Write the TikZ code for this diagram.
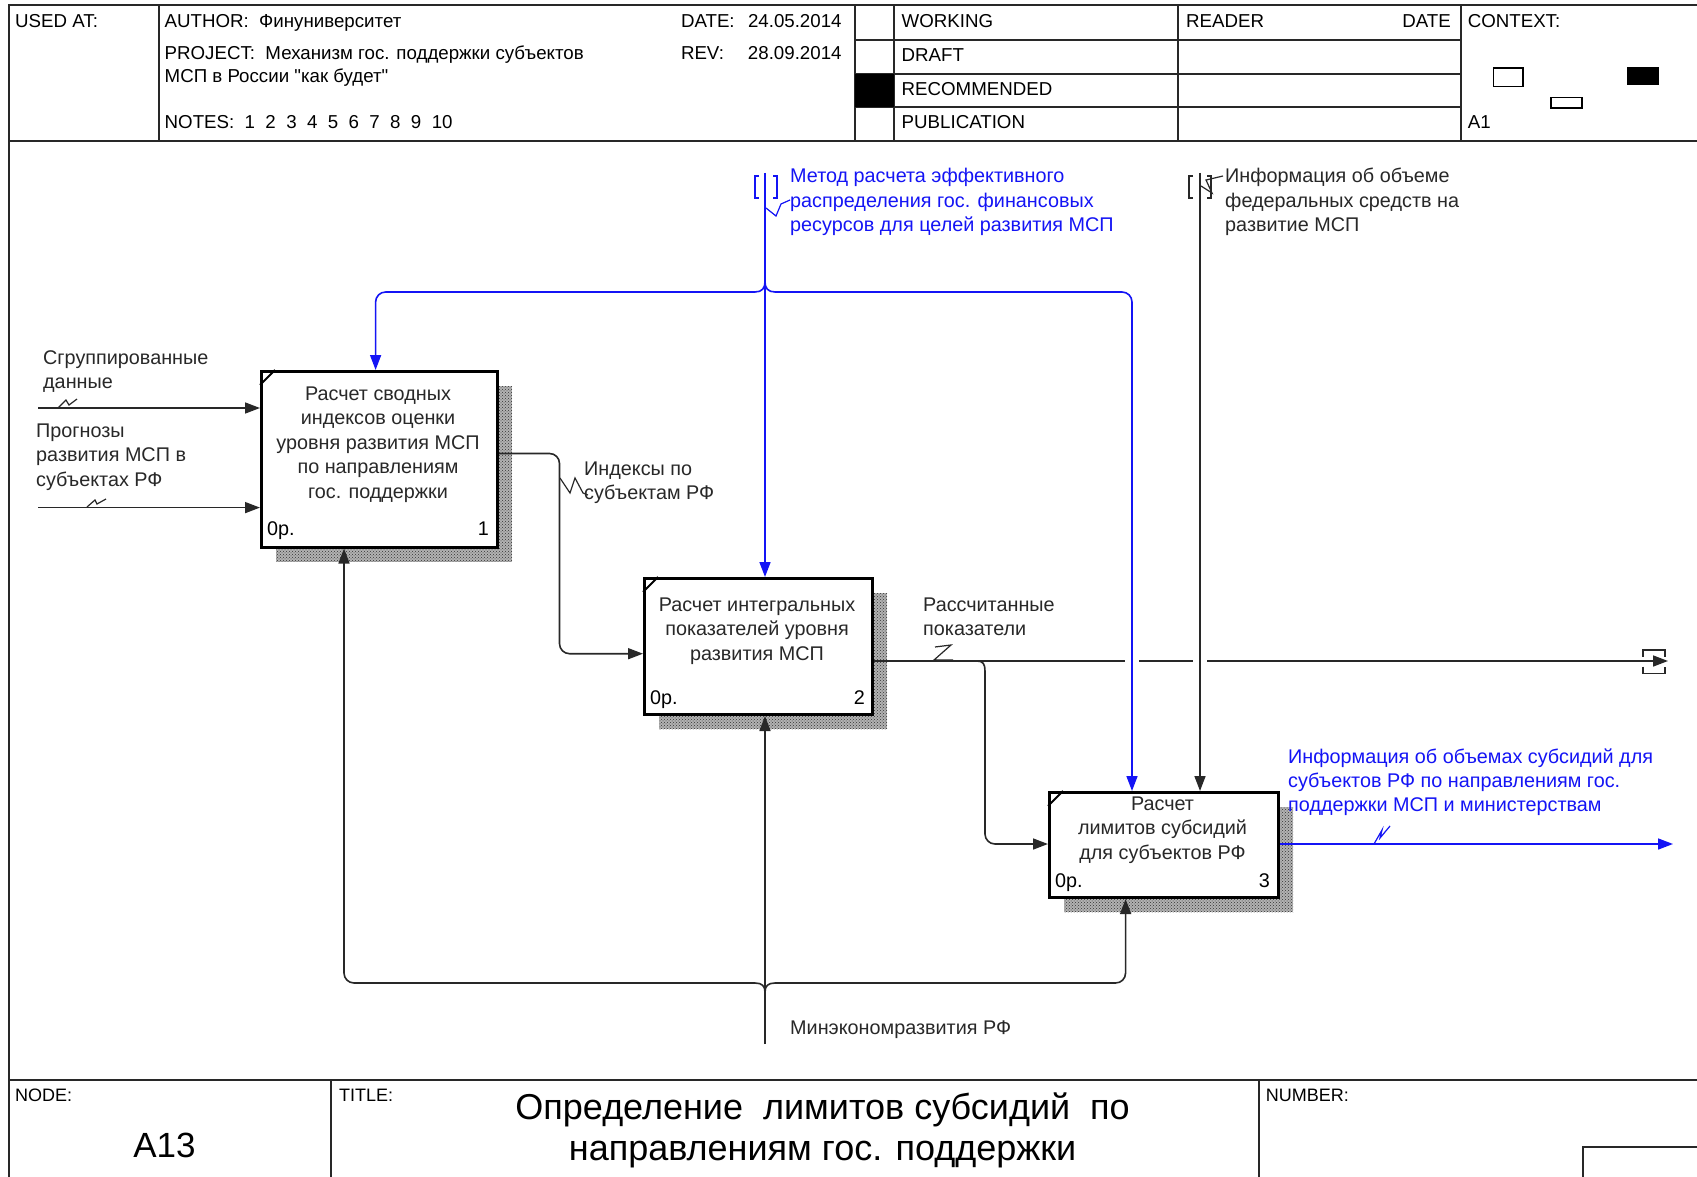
\documentclass[tikz,border=0pt]{standalone}
\usepackage{fontspec}
\setmainfont{Liberation Sans}[Ligatures=TeXOff]
\usetikzlibrary{arrows.meta,calc,patterns}
\definecolor{ln}{RGB}{40,40,40}
\definecolor{bl}{RGB}{20,20,245}
\begin{document}
\begin{tikzpicture}[x=1pt,y=-1pt,
  frame/.style={line width=2pt,draw=ln},
  hdr/.style={font=\fontsize{18.7}{22}\selectfont,anchor=base west,inner sep=0,text=black},
  small/.style={font=\fontsize{18}{20}\selectfont,anchor=base west,inner sep=0},
  lbl/.style={font=\fontsize{19.8}{24.4}\selectfont,anchor=base west,inner sep=0,align=left,text=ln},
  blbl/.style={lbl,text=bl},
  btxt/.style={font=\fontsize{19.8}{24.4}\selectfont,anchor=base,inner sep=0,align=center,text=ln},
  num/.style={font=\fontsize{19.8}{22}\selectfont,inner sep=0},
  act/.style={draw=black,line width=3pt,fill=white,inner sep=0,anchor=north west},
  shdbase/.style={fill=black!30},
  shd/.style={pattern=crosshatch dots,pattern color=black!80},
  arr/.style={line width=1.6pt,draw=ln,-{Triangle[length=15pt,width=11pt]}},
  barr/.style={arr,draw=bl},
  sq/.style={line width=1.2pt,draw=ln},
  bsq/.style={sq,draw=bl},
  brk/.style={line width=1.3pt,draw=ln}
]
\useasboundingbox (0,0) rectangle (1697,1177);
\begin{scope}
\clip (0,0) rectangle (1697,1177);
\fill[white] (0,0) rectangle (1697,1177);

% ---------- frame and header ----------
\draw[frame] (1697,5.4) -- (8.7,5.4) -- (8.7,1177);
\draw[frame] (8.7,140.7) -- (1697,140.7);
\draw[frame] (8.7,1080) -- (1697,1080);
\foreach \xx in {159,855,894,1178,1461} \draw[frame] (\xx,5.4) -- (\xx,140.7);
\foreach \yy in {40,73.6,107} \draw[frame] (855,\yy) -- (1461,\yy);
\fill[black] (855,73.6) rectangle (894,107);
\draw[frame] (331,1080) -- (331,1177);
\draw[frame] (1259,1080) -- (1259,1177);
\draw[frame] (1583,1177) -- (1583,1147) -- (1697,1147);
\draw[line width=1.3pt] (1493.5,68) rectangle (1523,86.6);
\draw[line width=1.3pt] (1551,97.4) rectangle (1582,108);
\fill[black] (1627,67) rectangle (1659,85.5);

\node[hdr] (usedat) at (15,28) {USED AT:};
\node[hdr] (author) at (164.5,28) {AUTHOR:\ \ Финуниверситет};
\node[hdr] (project) at (164.5,59.5) {PROJECT:\ \ Механизм гос. поддержки субъектов};
\node[hdr] (project2) at (164.5,82.3) {МСП в России "как будет"};
\node[hdr] (notes) at (164.5,128.8) {NOTES:\ \ 1\ \ 2\ \ 3\ \ 4\ \ 5\ \ 6\ \ 7\ \ 8\ \ 9\ \ 10};
\node[hdr] (date) at (680.8,28) {\makebox[67pt][l]{DATE:}24.05.2014};
\node[hdr] (rev) at (680.8,59.5) {\makebox[67pt][l]{REV:}28.09.2014};
\node[hdr] (working) at (901.5,28) {WORKING};
\node[hdr] (draft) at (901.5,61.7) {DRAFT};
\node[hdr] (recom) at (901.5,95.2) {RECOMMENDED};
\node[hdr] (public) at (901.5,128.8) {PUBLICATION};
\node[hdr] (reader) at (1186,28) {READER};
\node[hdr,anchor=base east] (rdate) at (1451,28) {DATE};
\node[hdr] (context) at (1467.6,28) {CONTEXT:};
\node[hdr] (ctxa1) at (1467.6,128.8) {A1};

% ---------- title block ----------
\node[small] (nodel) at (15,1101) {NODE:};
\node[small] (titlel) at (339,1101) {TITLE:};
\node[small] (numberl) at (1265.7,1101) {NUMBER:};
\node[font=\fontsize{35}{40}\selectfont,anchor=base,inner sep=0] (a13) at (164.5,1157.5) {A13};
\node[font=\fontsize{36}{41}\selectfont,anchor=base,inner sep=0,align=center] (ttl) at (822.6,1160)
  {Определение\ \ лимитов субсидий\ \ по\\направлениям гос. поддержки};

% ---------- shadows ----------
\foreach \r in {{(276,386) rectangle (512,561.5)},{(659,593) rectangle (887,729)},{(1064,807) rectangle (1293,912)}}{
  \fill[shdbase] \r;
  \fill[shd] \r;
}

% ---------- activity boxes ----------
\node[act,minimum width=236pt,minimum height=175.5pt] (b1) at (260,370) {};
\node[act,minimum width=228pt,minimum height=136pt] (b2) at (643,577) {};
\node[act,minimum width=229pt,minimum height=105pt] (b3) at (1048,791) {};
\foreach \b in {b1,b2,b3}
  \draw[line width=2pt] ($(\b.north west)+(0,15)$) -- ($(\b.north west)+(15,0)$);

\node[btxt] (b1t) at (378,498.1) {Расчет сводных\\индексов оценки\\уровня развития МСП\\по направлениям\\гос. поддержки};
\node[btxt] (b2t) at (757,660.3) {Расчет интегральных\\показателей уровня\\развития МСП};
\node[btxt] (b3t) at (1162.5,859.3) {Расчет\\лимитов субсидий\\для субъектов РФ};
\node[num,anchor=base west] (b1o) at (267,535.5) {0р.};
\node[num,anchor=base east] (b1n) at (489,535.5) {1};
\node[num,anchor=base west] (b2o) at (650,704.5) {0р.};
\node[num,anchor=base east] (b2n) at (865,704.5) {2};
\node[num,anchor=base west] (b3o) at (1055,887.5) {0р.};
\node[num,anchor=base east] (b3n) at (1270,887.5) {3};

% ---------- inputs ----------
\coordinate (in1) at (38,408);
\coordinate (in2) at (38,507.6);
\draw[arr] (in1) -- (b1.west |- in1);
\draw[arr] (in2) -- (b1.west |- in2);
\node[lbl] (l1) at (43,388.9) {Сгруппированные\\данные};
\node[lbl] (l2) at (36,486.3) {Прогнозы\\развития МСП в\\субъектах РФ};
\draw[sq] (58,408) -- (66,400) -- (69,405) -- (77,399);
\draw[sq] (87,507) -- (95,500) -- (97,504) -- (106,499);

% ---------- box1 -> box2 ----------
\coordinate (o1) at (559.5,453.5);
\draw[arr,rounded corners=10] (b1.east |- o1) -- (o1) -- (559.5,653.7) -- (b2.west |- 0,653.7);
\node[lbl] (l3) at (584,499.4) {Индексы по\\субъектам РФ};
\draw[sq] (560,478) -- (570,493) -- (575,478) -- (583,493) -- (588,495);

% ---------- box2 output (tunnelled) and branch to box3 ----------
\coordinate (o2end) at (1668,661);
\draw[arr] (b2.east |- o2end) -- (o2end);
\fill[white] (1125,655) rectangle (1139,667);
\fill[white] (1193,655) rectangle (1207,667);
\draw[brk] (1643,656.7) -- (1643,650) -- (1665,650) -- (1665,656.7);
\draw[brk] (1643,666.7) -- (1643,673.3) -- (1665,673.3) -- (1665,666.7);
\draw[arr] (977,661) .. controls (983,661) and (985,664) .. (985,671)
  [rounded corners=10] -- (985,844) -- (b3.west |- 0,844);
\node[lbl] (l4) at (923,635.9) {Рассчитанные\\показатели};
\draw[sq] (935,647) -- (951,645) -- (934,660) -- (953,660);

% ---------- blue control ----------
\coordinate (c1) at (765,173);
\draw[barr] (c1) -- (c1 |- b2.north);
\draw[barr] (765,282) .. controls (765,288) and (762,292) .. (755,292)
  [rounded corners=10] -- (375.6,292) -- (375.6,0 |- b1.north);
\draw[barr] (765,282) .. controls (765,288) and (768,292) .. (775,292)
  [rounded corners=10] -- (1132,292) -- (1132,0 |- b3.north);
\draw[brk,draw=bl] (759,176) -- (755,176) -- (755,198) -- (759,198);
\draw[brk,draw=bl] (773,176) -- (777,176) -- (777,198) -- (773,198);
\node[blbl] (l5) at (790,231.8) {Метод расчета эффективного\\распределения гос. финансовых\\ресурсов для целей развития МСП};
\draw[bsq] (766,208) -- (776,216) -- (781,204) -- (790,200);

% ---------- black control ----------
\coordinate (c2) at (1200,173);
\draw[arr] (c2) -- (c2 |- b3.north);
\draw[brk] (1193,176) -- (1189,176) -- (1189,198) -- (1193,198);
\draw[brk] (1207,176) -- (1211,176) -- (1211,198) -- (1207,198);
\node[lbl] (l6) at (1225,231.8) {Информация об объеме\\федеральных средств на\\развитие МСП};
\draw[sq] (1201,186) -- (1212,193) -- (1206,180) -- (1223,176);

% ---------- mechanism ----------
\coordinate (m) at (765,1044);
\draw[arr] (m) -- (m |- b2.south);
\draw[arr] (765,992) .. controls (765,986) and (762,983) .. (755,983)
  [rounded corners=10] -- (344,983) -- (344,0 |- b1.south);
\draw[arr] (765,992) .. controls (765,986) and (768,983) .. (775,983)
  [rounded corners=10] -- (1125.6,983) -- (1125.6,0 |- b3.south);
\node[lbl] (l7) at (790,1034.5) {Минэкономразвития РФ};

% ---------- box3 output ----------
\coordinate (o3end) at (1673,844);
\draw[barr] (b3.east |- o3end) -- (o3end);
\node[blbl] (l8) at (1288,811.8) {Информация об объемах субсидий для\\субъектов РФ по направлениям гос.\\поддержки МСП и министерствам};
\draw[bsq] (1374,844) -- (1382,830) -- (1380,838) -- (1390,826);

\end{scope}
\end{tikzpicture}
\end{document}
